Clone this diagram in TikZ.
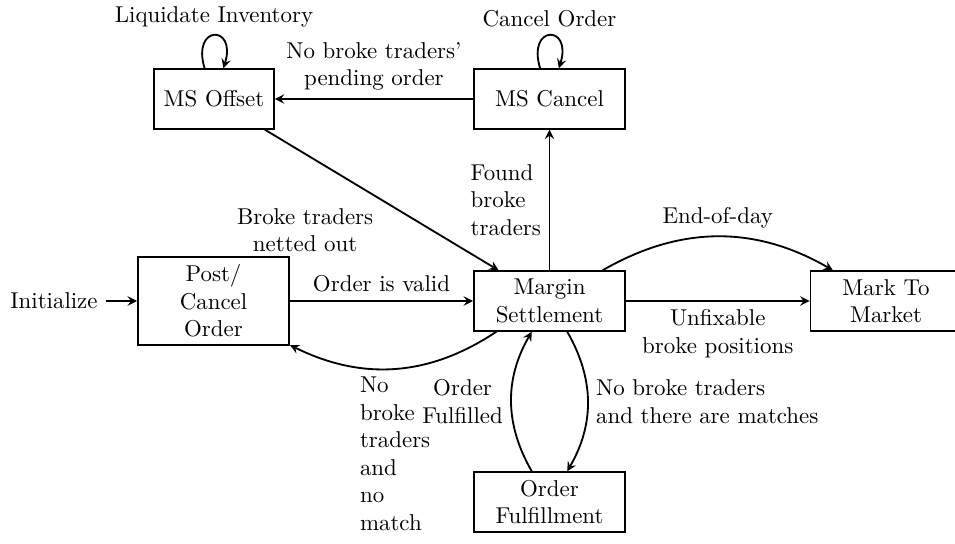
\documentclass[tikz,border=0pt]{standalone}
\usetikzlibrary{arrows.meta}
\begin{document}
\begin{tikzpicture}[x=0.4367pt, y=0.4367pt, >=stealth,
  stbox/.style={draw, thick, minimum width=66pt, minimum height=26pt,
                align=center, inner sep=3.33pt},
  flow/.style={->, thick},
  selfloop/.style={out=107, in=73, distance=20pt}]
\useasboundingbox (0,0) rectangle (955,543);

% states
\node (init) at (54,242) {Initialize};
\node[stbox] (post)   at (213.5,242) {Post/\\Cancel\\Order};
\node[stbox] (margin) at (549.5,242) {Margin\\Settlement};
\node[stbox] (mark)   at (886,242)   {Mark To\\Market};
\node[stbox, minimum width=52.4pt] (offset) at (214,444) {MS Offset};
\node[stbox] (cancel) at (549.5,444) {MS Cancel};
\node[stbox] (fulfil) at (549.5,41)  {Order\\Fulfillment};

% transitions
\draw[flow] (init) -- (post);
\draw[flow] (post) -- node[above] {Order is valid} (margin);
\draw[flow] (margin) -- node[left, align=left] {Found\\broke\\traders} (cancel);
\draw[flow] (cancel) -- node[above, align=center] {No broke traders'\\pending order} (offset);
\draw[flow] (offset) -- node[below left, align=center] {Broke traders\\netted out} (margin);
\draw[flow] (margin) to[bend left] node[above] {End-of-day} (mark);
\draw[flow] (margin) -- node[below, align=center] {Unfixable\\broke positions} (mark);
\draw[flow] (margin) to[bend left] node[below, align=left] {No\\broke\\traders\\and\\no\\match} (post);
\draw[flow] (margin) to[bend left] node[right, align=left] {No broke traders\\and there are matches} (fulfil);
\draw[flow] (fulfil) to[bend left] node[left, align=center] {Order\\Fulfilled} (margin);
\draw[flow] (offset) to[selfloop] node[above] {Liquidate Inventory} (offset);
\draw[flow] (cancel) to[selfloop] node[above] {Cancel Order} (cancel);
\end{tikzpicture}
\end{document}
